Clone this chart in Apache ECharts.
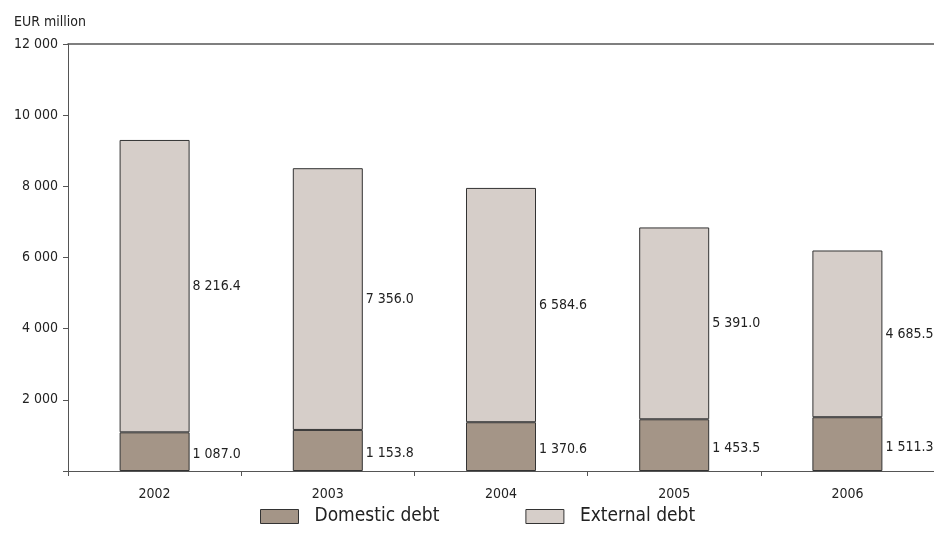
<!DOCTYPE html>
<html>
<head>
<meta charset="utf-8">
<script src="https://cdn.jsdelivr.net/npm/echarts@6/dist/echarts.min.js"></script>
<style>
  html, body { margin: 0; padding: 0; background: #fff; }
  #chart { width: 934px; height: 534px; }
</style>
</head>
<body>
<div id="chart"></div>
<script>
// Government debt by origin, EUR million
const years = ['2002', '2003', '2004', '2005', '2006'];
const domesticDebt = [1087.0, 1153.8, 1370.6, 1453.5, 1511.3];
const externalDebt = [8216.4, 7356.0, 6584.6, 5391.0, 4685.5];
const yTicks = [0, 2000, 4000, 6000, 8000, 10000, 12000];

const FONT = '"Liberation Sans Narrow", "DejaVu Sans Condensed", "Liberation Sans", sans-serif';
const INK = '#222';
const AXIS = '#555';

// "8216.4" -> "8 216.4"
function fmtValue(v) {
  const parts = v.toFixed(1).split('.');
  return parts[0].replace(/\B(?=(\d{3})+(?!\d))/g, ' ') + '.' + parts[1];
}
function fmtTick(v) {
  if (v === 0) return '';
  return String(v).replace(/\B(?=(\d{3})+(?!\d))/g, ' ');
}

const chart = echarts.init(document.getElementById('chart'), null, { renderer: 'canvas' });

function valueLabel(offsetY) {
  return {
    show: true,
    position: 'right',
    distance: 3,
    offset: [0, offsetY],
    color: INK,
    fontFamily: FONT,
    fontSize: 14,
    formatter: p => fmtValue(p.value)
  };
}

chart.setOption({
  animation: false,
  backgroundColor: '#fff',
  title: {
    text: 'EUR million',
    left: 9,
    top: 10,
    textStyle: { fontFamily: FONT, fontSize: 14, fontWeight: 'normal', color: INK }
  },
  grid: { left: 68, right: 0, top: 44, bottom: 63, containLabel: false },
  legend: {
    bottom: 3,
    left: 255,
    icon: 'rect',
    itemWidth: 38,
    itemHeight: 14,
    itemGap: 86,
    itemStyle: { borderColor: '#333', borderWidth: 1 },
    textStyle: { fontFamily: FONT, fontSize: 19, color: INK, padding: [0, 0, 0, 11] },
    data: ['Domestic debt', 'External debt']
  },
  xAxis: [{
    type: 'category',
    data: years,
    position: 'bottom',
    axisLine: { show: true, lineStyle: { color: AXIS, width: 1 } },
    axisTick: { show: true, alignWithLabel: false, length: 5, lineStyle: { color: AXIS } },
    axisLabel: { color: INK, fontFamily: FONT, fontSize: 14, margin: 16 },
    splitLine: { show: false }
  }, {
    type: 'category',
    data: years,
    position: 'top',
    axisLine: { show: true, lineStyle: { color: AXIS, width: 1.5 } },
    axisTick: { show: false },
    axisLabel: { show: false }
  }],
  yAxis: {
    type: 'value',
    min: yTicks[0],
    max: yTicks[yTicks.length - 1],
    interval: 2000,
    axisLine: { show: true, lineStyle: { color: AXIS, width: 1 } },
    axisTick: { show: true, length: 5, lineStyle: { color: AXIS } },
    axisLabel: { color: INK, fontFamily: FONT, fontSize: 14, margin: 10, formatter: fmtTick },
    splitLine: { show: false }
  },
  series: [{
    name: 'Domestic debt',
    type: 'bar',
    stack: 'debt',
    barWidth: 70,
    data: domesticDebt,
    itemStyle: { color: '#a49587', borderColor: '#333', borderWidth: 1 },
    label: valueLabel(3)
  }, {
    name: 'External debt',
    type: 'bar',
    stack: 'debt',
    barWidth: 70,
    data: externalDebt,
    itemStyle: { color: '#d6cec9', borderColor: '#333', borderWidth: 1 },
    label: valueLabel(0)
  }]
});
</script>
</body>
</html>
